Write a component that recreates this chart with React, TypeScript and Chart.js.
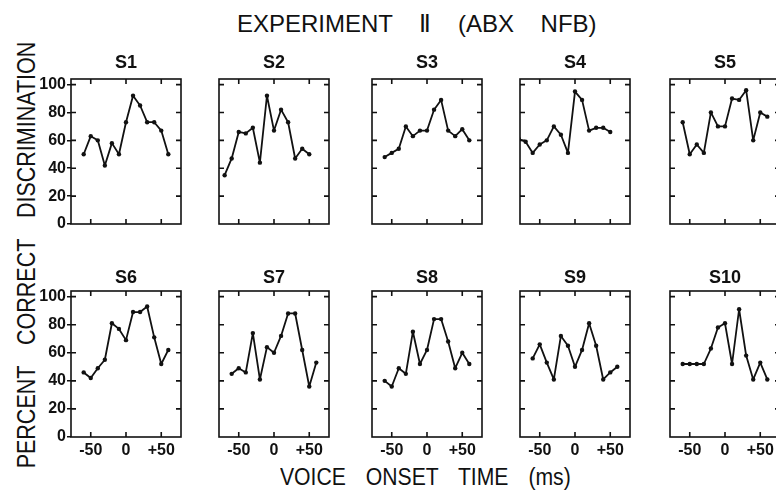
import React, { useEffect, useRef } from 'react';
import { Chart, registerables } from 'chart.js';

Chart.register(...registerables);

// ---------- data ----------
const votStandard = [-60, -50, -40, -30, -20, -10, 0, 10, 20, 30, 40, 50, 60];
const votS2 = [-70, -60, -50, -40, -30, -20, -10, 0, 10, 20, 30, 40, 50];
const votS4 = [-80, -70, -60, -50, -40, -30, -20, -10, 0, 10, 20, 30, 40, 50];

const s1 = [50, 63, 60, 42, 58, 50, 73, 92, 85, 73, 73, 67, 50];
const s2 = [35, 47, 66, 65, 69, 44, 92, 67, 82, 73, 47, 54, 50];
const s3 = [48, 51, 54, 70, 63, 67, 67, 82, 89, 67, 63, 68, 60];
const s4 = [61, 59, 51, 57, 60, 70, 64, 51, 95, 89, 67, 69, 69, 66];
const s5 = [73, 50, 57, 51, 80, 70, 70, 90, 89, 96, 60, 80, 77];
const s6 = [46, 42, 49, 55, 81, 77, 69, 89, 89, 93, 71, 52, 62];
const s7 = [45, 49, 46, 74, 41, 64, 60, 72, 88, 88, 62, 36, 53];
const s8 = [40, 36, 49, 45, 75, 52, 62, 84, 84, 68, 49, 60, 52];
const s9 = [56, 66, 53, 41, 72, 65, 50, 62, 81, 65, 41, 46, 50];
const s10 = [52, 52, 52, 52, 63, 78, 81, 52, 91, 58, 41, 53, 41];

const subjectNames = ['S1', 'S2', 'S3', 'S4', 'S5', 'S6', 'S7', 'S8', 'S9', 'S10'];
const subjectVot = [votStandard, votS2, votStandard, votS4, votStandard, votStandard, votStandard, votStandard, votStandard, votStandard];
const subjectPct = [s1, s2, s3, s4, s5, s6, s7, s8, s9, s10];

const xTickValues = [-50, 0, 50];
const xTickLabels = ['-50', '0', '+50'];
const yTickValues = [0, 20, 40, 60, 80, 100];
const yTickLabels = ['0', '20', '40', '60', '80', '100'];

const chartTitle = 'EXPERIMENT \u2161 (ABX NFB)';
const xAxisTitle = 'VOICE ONSET TIME (ms)';
const yAxisTitle = 'PERCENT CORRECT DISCRIMINATION';

// ---------- layout / style ----------
const INK = '#111';
const FONT = "'Liberation Sans', Arial, sans-serif";
const X_MIN = -78;
const X_MAX = 78;
const Y_MIN = 0;
const Y_MAX = 104;
const COL_LEFTS = [71, 219, 372, 520, 670];
const ROW_TOPS = [79, 291];
const ROW_HEIGHTS = [145, 146];
const BOX_W = 110;
const L = 60;
const T = 30;
const B = 30;
const TITLE_PAD = [
  { top: 5, bottom: 7 },
  { top: 8, bottom: 4 },
];

const framePlugin = {
  id: 'frame',
  afterDatasetsDraw(chart: any) {
    const { ctx, chartArea, scales } = chart;
    const { left, top, right, bottom } = chartArea;
    const x = scales.x;
    const y = scales.y;
    ctx.save();
    ctx.strokeStyle = INK;
    ctx.lineWidth = 1.6;
    ctx.strokeRect(left, top, right - left, bottom - top);
    ctx.beginPath();
    xTickValues.forEach((v) => {
      const px = x.getPixelForValue(v);
      ctx.moveTo(px, top);
      ctx.lineTo(px, top + 5);
      ctx.moveTo(px, bottom);
      ctx.lineTo(px, bottom - 5);
    });
    yTickValues.forEach((v) => {
      if (v === 0) return;
      const py = y.getPixelForValue(v);
      ctx.moveTo(left, py);
      ctx.lineTo(left + 5, py);
      ctx.moveTo(right, py);
      ctx.lineTo(right - 5, py);
    });
    ctx.stroke();
    ctx.restore();
  },
};

function Panel({ index }: { index: number }) {
  const ref = useRef<HTMLCanvasElement | null>(null);
  const row = index < 5 ? 0 : 1;
  const col = index % 5;
  const boxH = ROW_HEIGHTS[row];
  const width = L + BOX_W + L;
  const height = T + boxH + B;
  const left = COL_LEFTS[col] - L;
  const top = ROW_TOPS[row] - T;

  useEffect(() => {
    if (!ref.current) return;
    const showY = col === 0;
    const showX = row === 1;
    const vot = subjectVot[index];
    const pct = subjectPct[index];
    const tickFont = { family: FONT, size: 16, weight: 'bold' as const };
    const chart = new Chart(ref.current, {
      type: 'line',
      data: {
        datasets: [
          {
            data: vot.map((v, i) => ({ x: v, y: pct[i] })),
            borderColor: INK,
            backgroundColor: INK,
            borderWidth: 1.8,
            borderJoinStyle: 'round',
            borderCapStyle: 'round',
            pointRadius: 2.2,
            pointBorderWidth: 0,
            pointBackgroundColor: INK,
            tension: 0,
            yAxisID: 'y',
          },
        ],
      },
      options: {
        animation: false,
        responsive: false,
        maintainAspectRatio: false,
        events: [],
        layout: { padding: 0 },
        plugins: {
          legend: { display: false },
          tooltip: { enabled: false },
          title: {
            display: true,
            text: subjectNames[index],
            color: INK,
            font: { family: FONT, size: 18, weight: 'bold', lineHeight: 1 },
            padding: TITLE_PAD[row],
          },
        },
        scales: {
          x: {
            type: 'linear',
            min: X_MIN,
            max: X_MAX,
            afterBuildTicks: (s: any) => {
              s.ticks = xTickValues.map((v) => ({ value: v }));
            },
            ticks: {
              display: showX,
              color: INK,
              font: tickFont,
              padding: 4,
              maxRotation: 0,
              autoSkip: false,
              callback: (v: any) => xTickLabels[xTickValues.indexOf(Number(v))] ?? '',
            },
            grid: { display: false, drawTicks: false },
            border: { display: false },
            afterFit: (s: any) => {
              s.height = B;
              s.paddingLeft = 0;
              s.paddingRight = 0;
            },
          },
          y: {
            type: 'linear',
            position: 'left',
            min: Y_MIN,
            max: Y_MAX,
            afterBuildTicks: (s: any) => {
              s.ticks = yTickValues.map((v) => ({ value: v }));
            },
            ticks: {
              display: showY,
              color: INK,
              font: tickFont,
              padding: 1,
              autoSkip: false,
              callback: (v: any) => yTickLabels[yTickValues.indexOf(Number(v))] ?? '',
            },
            grid: showY
              ? { display: true, drawOnChartArea: false, drawTicks: true, tickLength: 4, color: INK, lineWidth: 1.5 }
              : { display: false, drawTicks: false },
            border: { display: false },
            afterFit: (s: any) => {
              s.width = L;
              s.paddingTop = 0;
              s.paddingBottom = 0;
            },
          },
          yRight: {
            type: 'linear',
            position: 'right',
            min: Y_MIN,
            max: Y_MAX,
            ticks: { display: false },
            grid: { display: false, drawTicks: false },
            border: { display: false },
            afterFit: (s: any) => {
              s.width = L;
              s.paddingTop = 0;
              s.paddingBottom = 0;
            },
          },
        },
      },
      plugins: [framePlugin],
    } as any);
    return () => chart.destroy();
  }, [index]);

  return (
    <canvas
      ref={ref}
      width={width}
      height={height}
      style={{ position: 'absolute', left, top, width, height }}
    />
  );
}

function textTop(baseline: number, fs: number) {
  return baseline - 0.8465 * fs;
}

export default function App() {
  return (
    <div
      style={{
        position: 'absolute',
        left: 0,
        top: 0,
        width: 776,
        height: 493,
        overflow: 'hidden',
        background: '#fff',
        color: INK,
        fontFamily: FONT,
      }}
    >
      <div
        style={{
          position: 'absolute',
          left: 237,
          top: textTop(32, 24),
          fontSize: 24,
          lineHeight: '24px',
          wordSpacing: 20,
          whiteSpace: 'nowrap',
        }}
      >
        {chartTitle}
      </div>
      <div
        style={{
          position: 'absolute',
          left: 280,
          top: textTop(485, 23),
          fontSize: 23,
          lineHeight: '23px',
          wordSpacing: 15.3,
          whiteSpace: 'nowrap',
          transform: 'scaleX(0.92)',
          transformOrigin: 'left center',
        }}
      >
        {xAxisTitle}
      </div>
      <div
        style={{
          position: 'absolute',
          left: 26,
          top: 254.5,
          width: 0,
          height: 0,
        }}
      >
        <div
          style={{
            position: 'absolute',
            left: 0,
            top: 0,
            fontSize: 25,
            lineHeight: '25px',
            wordSpacing: 17.5,
            whiteSpace: 'nowrap',
            transform: 'translate(-50%, -50%) rotate(-90deg) scaleX(0.86)',
            transformOrigin: 'center center',
          }}
        >
          {yAxisTitle}
        </div>
      </div>
      {subjectNames.map((_, i) => (
        <Panel key={i} index={i} />
      ))}
    </div>
  );
}
